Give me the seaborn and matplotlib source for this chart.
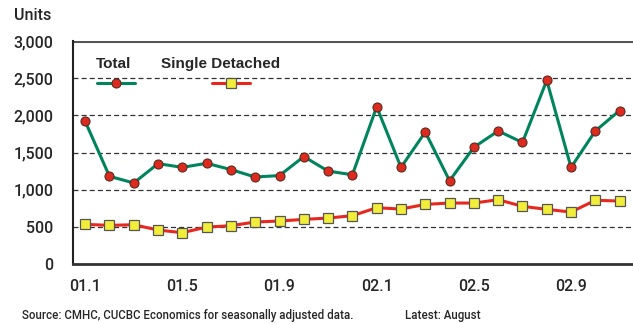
import matplotlib
matplotlib.use("Agg")
import matplotlib.pyplot as plt
from matplotlib.lines import Line2D
import seaborn as sns
import pandas as pd

months = ["01.1", "01.2", "01.3", "01.4", "01.5", "01.6", "01.7", "01.8", "01.9", "01.10",
          "01.11", "01.12", "02.1", "02.2", "02.3", "02.4", "02.5", "02.6", "02.7", "02.8",
          "02.9", "02.10", "02.11"]
total = [1920, 1180, 1090, 1350, 1300, 1355, 1270, 1170, 1190, 1445, 1250, 1200,
         2115, 1300, 1775, 1120, 1570, 1790, 1635, 2470, 1300, 1790, 2065]
single = [533, 520, 528, 457, 421, 497, 515, 565, 578, 600, 618, 650,
          757, 739, 802, 820, 820, 865, 776, 735, 699, 857, 847]
tick_labels = ["01.1", "01.5", "01.9", "02.1", "02.5", "02.9"]
yticks = [0, 500, 1000, 1500, 2000, 2500, 3000]

df = pd.DataFrame({"idx": range(len(months)), "month": months, "Total": total, "Single Detached": single})

sns.set_style("white")
plt.rcParams["font.family"] = ["Roboto", "Liberation Sans", "DejaVu Sans"]
TXT = "#262626"
W = 500

fig = plt.figure(figsize=(6.33, 3.24), dpi=100)
ax = fig.add_axes([73 / 633, 1 - 264 / 324, (633 - 73) / 633, (264 - 41) / 324])

GREEN = "#00845c"
RED = "#e8281e"
YEL = "#f2ec3a"

sns.lineplot(data=df, x="idx", y="Total", ax=ax, color=GREEN, lw=2.2, marker="o",
             markersize=6.5, markerfacecolor="#dd2a1f", markeredgecolor="#5a2a20",
             markeredgewidth=0.8, zorder=4)
sns.lineplot(data=df, x="idx", y="Single Detached", ax=ax, color=RED, lw=2.2, marker="s",
             markersize=7, markerfacecolor=YEL, markeredgecolor="#555555",
             markeredgewidth=0.9, zorder=4)

ax.set_xlim(-0.5, 22.55)
ax.set_ylim(0, 3000)
ax.set_xlabel("")
ax.set_ylabel("")

for y in yticks[1:-1]:
    ax.axhline(y, color="#333333", lw=0.9, ls=(0, (4, 2.5)), zorder=1, clip_on=False)
ax.axhline(3000, color="#555555", lw=2.2, zorder=1)

ax.set_yticks(yticks)
ax.set_yticklabels([f"{v:,}" for v in yticks], fontsize=11.5, color=TXT, fontweight=W)
ax.set_xticks(range(len(months)))
ax.set_xticklabels([m if m in tick_labels else "" for m in months], fontsize=11.5, color=TXT,
                   fontweight=W)
ax.tick_params(axis="x", length=6, width=1, color="#333333", direction="out", pad=5)
ax.tick_params(axis="y", length=7, width=0.9, color="#444444", direction="out", pad=7)

for s in ["top", "right"]:
    ax.spines[s].set_visible(False)
ax.spines["left"].set_color("#222222")
ax.spines["left"].set_linewidth(1.5)
ax.spines["bottom"].set_color("#333333")
ax.spines["bottom"].set_linewidth(2)

# legend (manual, text above handle)
ax.text(23 / 560, 0.895, "Total", transform=ax.transAxes, fontsize=11, color=TXT,
        fontweight="bold", ha="left", va="center", family=["Liberation Sans", "DejaVu Sans"])
ax.text(88 / 560, 0.895, "Single Detached", transform=ax.transAxes, fontsize=11, color=TXT,
        fontweight="bold", ha="left", va="center", family=["Liberation Sans", "DejaVu Sans"])
ax.add_line(Line2D([24 / 560, 62 / 560], [0.812, 0.812], transform=ax.transAxes, color=GREEN,
                   lw=2.2, zorder=5))
ax.add_line(Line2D([43 / 560], [0.812], transform=ax.transAxes, marker="o", markersize=6.5,
                   markerfacecolor="#dd2a1f", markeredgecolor="#5a2a20", markeredgewidth=0.8, zorder=6))
ax.add_line(Line2D([139 / 560, 177 / 560], [0.812, 0.812], transform=ax.transAxes, color=RED,
                   lw=2.2, zorder=5))
ax.add_line(Line2D([158 / 560], [0.812], transform=ax.transAxes, marker="s", markersize=7,
                   markerfacecolor=YEL, markeredgecolor="#555555", markeredgewidth=0.9, zorder=6))

fig.text(14 / 633, 1 - 15 / 324, "Units", fontsize=11.5, color=TXT, ha="left", va="center",
         fontweight=W)
fig.text(22 / 633, 1 - 316 / 324, "Source: CMHC, CUCBC Economics for seasonally adjusted data.",
         fontsize=8.3, color=TXT, ha="left", va="center", fontweight=W)
fig.text(405 / 633, 1 - 316 / 324, "Latest: August", fontsize=8.3, color=TXT, ha="left",
         va="center", fontweight=W)

fig.savefig("out.png", dpi=100)
